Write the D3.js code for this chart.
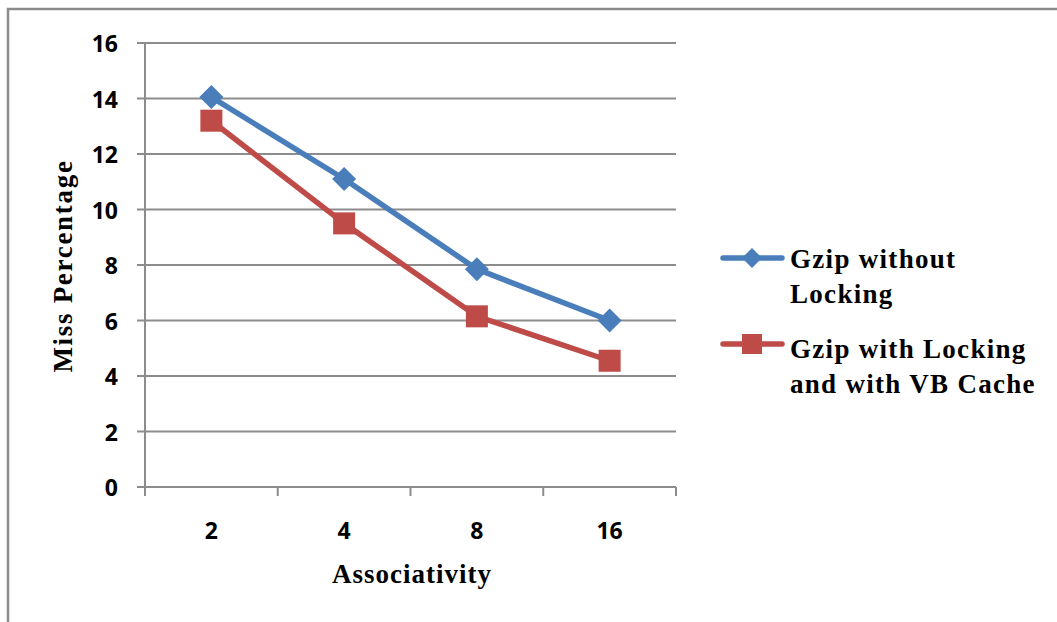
<!DOCTYPE html>
<html>

<head>
  <script src="https://d3js.org/d3.v7.min.js"></script>
  <style>
    body { margin: 0; background: #fff; }
    .tick-label { font-family: "Open Sans", "Liberation Sans", sans-serif; font-weight: bold; font-size: 23px; fill: #000; }
    .axis-title { font-family: "Liberation Serif", serif; font-weight: bold; font-size: 27px; fill: #000; }
    .legend-text { font-family: "Liberation Serif", serif; font-weight: bold; font-size: 27px; fill: #000; letter-spacing: 1.3px; }
  </style>
</head>

<body>
  <svg id="chart" width="1057" height="622"></svg>
  <script>
    // data
    const categories = ["2", "4", "8", "16"];
    const withoutLocking = [14.05, 11.1, 7.85, 6.0];
    const withLocking = [13.2, 9.5, 6.15, 4.55];
    const yTicks = [0, 2, 4, 6, 8, 10, 12, 14, 16];

    const series = [
      { name: ["Gzip without", "Locking"], values: withoutLocking, color: "#4a7ebb", marker: "diamond" },
      { name: ["Gzip with Locking", "and with VB Cache"], values: withLocking, color: "#be4b48", marker: "square" }
    ];

    const svg = d3.select("#chart");

    // outer frame
    svg.append("rect")
      .attr("x", 8).attr("y", 9)
      .attr("width", 1100).attr("height", 700)
      .attr("fill", "none").attr("stroke", "#8c8c8c").attr("stroke-width", 2.5);

    const plotLeft = 145, plotRight = 676, plotTop = 43, plotBottom = 487;

    const x = d3.scaleBand().domain(categories).range([plotLeft, plotRight]);
    const y = d3.scaleLinear().domain([0, 16]).range([plotBottom, plotTop]);

    // gridlines + y ticks
    svg.append("g").selectAll("line")
      .data(yTicks)
      .join("line")
      .attr("x1", plotLeft - 8).attr("x2", plotRight)
      .attr("y1", d => y(d)).attr("y2", d => y(d))
      .attr("stroke", "#8c8c8c").attr("stroke-width", 2);

    svg.append("g").selectAll("text")
      .data(yTicks)
      .join("text")
      .attr("class", "tick-label")
      .attr("x", plotLeft - 27).attr("y", d => y(d) + 9)
      .attr("text-anchor", "end")
      .text(d => d);

    // y axis line
    svg.append("line")
      .attr("x1", plotLeft).attr("x2", plotLeft)
      .attr("y1", plotTop).attr("y2", plotBottom)
      .attr("stroke", "#8c8c8c").attr("stroke-width", 2);

    // x ticks at band edges
    const edges = categories.map(c => x(c)).concat([plotRight]);
    svg.append("g").selectAll("line")
      .data(edges)
      .join("line")
      .attr("x1", d => d).attr("x2", d => d)
      .attr("y1", plotBottom).attr("y2", plotBottom + 9)
      .attr("stroke", "#8c8c8c").attr("stroke-width", 2);

    svg.append("g").selectAll("text")
      .data(categories)
      .join("text")
      .attr("class", "tick-label")
      .attr("x", d => x(d) + x.bandwidth() / 2).attr("y", plotBottom + 52)
      .attr("text-anchor", "middle")
      .text(d => d);

    // axis titles
    svg.append("text")
      .attr("class", "axis-title")
      .attr("x", 412).attr("y", 583)
      .attr("text-anchor", "middle")
      .style("letter-spacing", "1px")
      .text("Associativity");

    svg.append("text")
      .attr("class", "axis-title")
      .attr("transform", "translate(72,266) rotate(-90)")
      .attr("text-anchor", "middle")
      .style("letter-spacing", "1.7px")
      .text("Miss Percentage");

    const line = d3.line()
      .x((d, i) => x(categories[i]) + x.bandwidth() / 2)
      .y(d => y(d));

    function drawMarker(g, type, color, cx, cy, s) {
      if (type === "diamond") {
        g.append("path")
          .attr("d", `M${cx},${cy - s} L${cx + s},${cy} L${cx},${cy + s} L${cx - s},${cy} Z`)
          .attr("fill", color);
      } else {
        g.append("rect")
          .attr("x", cx - s).attr("y", cy - s)
          .attr("width", 2 * s).attr("height", 2 * s)
          .attr("fill", color);
      }
    }

    series.forEach(s => {
      svg.append("path")
        .datum(s.values)
        .attr("d", line)
        .attr("fill", "none")
        .attr("stroke", s.color)
        .attr("stroke-width", 5.5)
        .attr("stroke-linejoin", "round");
      const g = svg.append("g");
      s.values.forEach((v, i) => {
        drawMarker(g, s.marker, s.color, x(categories[i]) + x.bandwidth() / 2, y(v), s.marker === "diamond" ? 12 : 11);
      });
    });

    // legend
    const legendY = [258, 344];
    const legendText = [[268, 303], [358, 393]];
    series.forEach((s, i) => {
      const g = svg.append("g");
      g.append("line")
        .attr("x1", 723).attr("x2", 782)
        .attr("y1", legendY[i]).attr("y2", legendY[i])
        .attr("stroke", s.color).attr("stroke-width", 5.5).attr("stroke-linecap", "round");
      drawMarker(g, s.marker, s.color, 752, legendY[i], 10);
      s.name.forEach((t, j) => {
        g.append("text")
          .attr("class", "legend-text")
          .attr("x", 790).attr("y", legendText[i][j])
          .text(t);
      });
    });
  </script>
</body>

</html>
